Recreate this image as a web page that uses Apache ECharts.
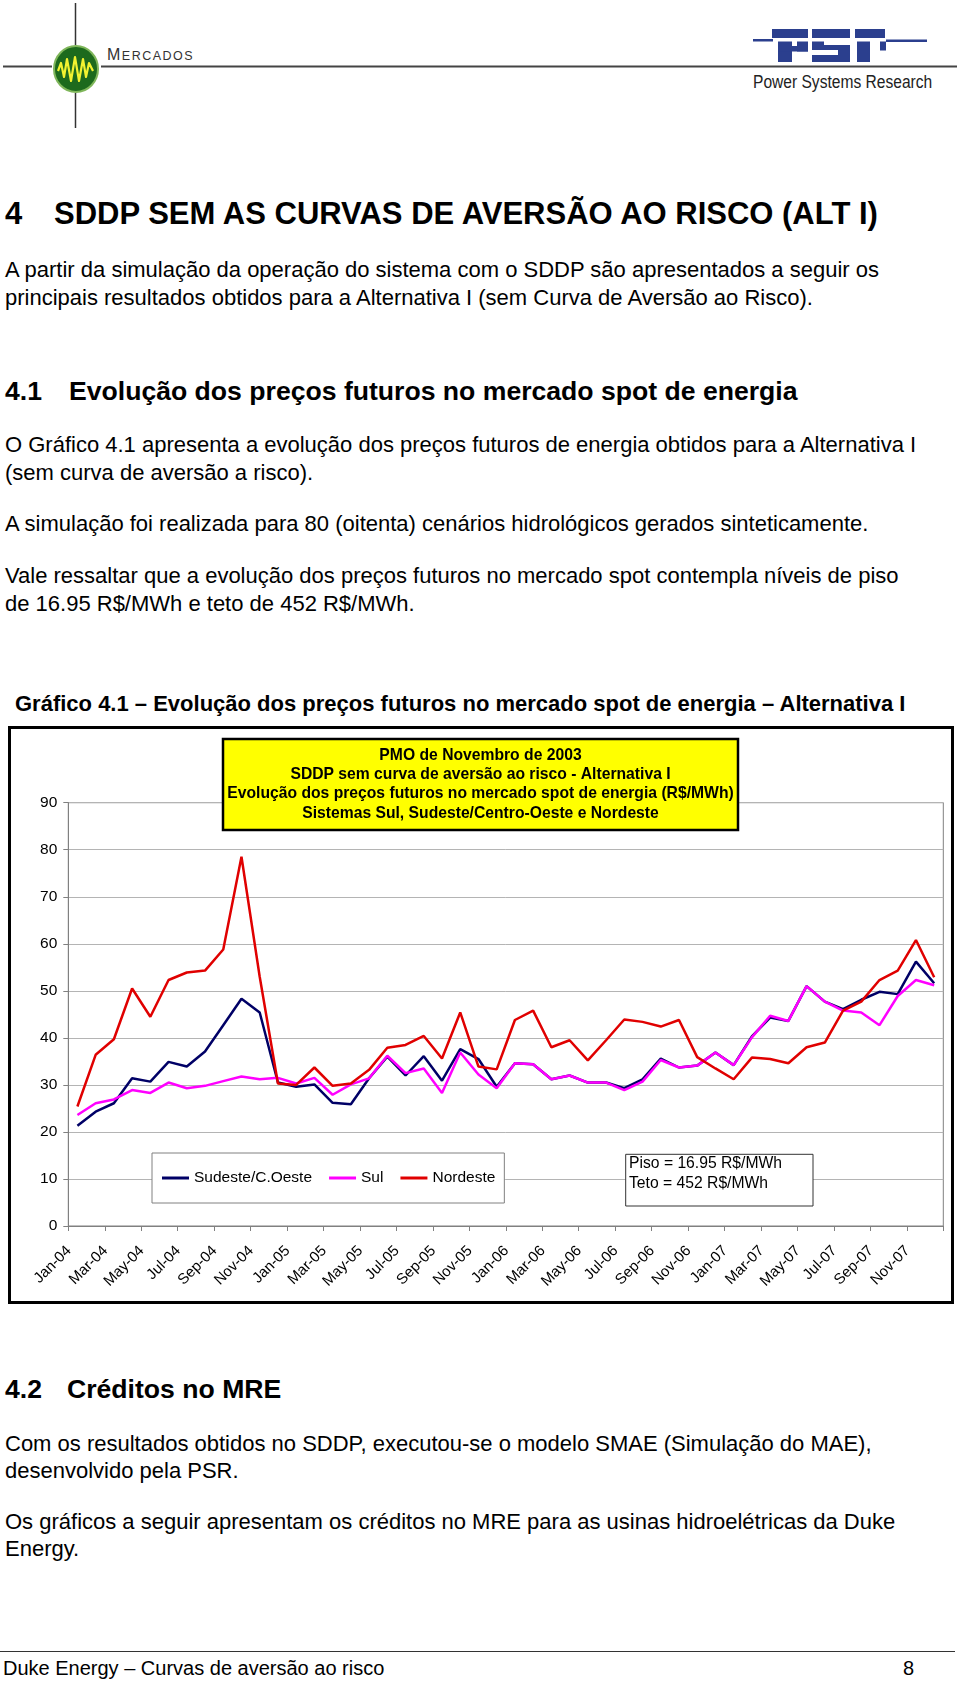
<!DOCTYPE html>
<html>
<head>
<meta charset="utf-8">
<script src="https://cdn.jsdelivr.net/npm/echarts@6/dist/echarts.min.js"></script>
<style>
  html, body { margin: 0; padding: 0; background: #fff; }
  #page { position: relative; width: 960px; height: 1682px; overflow: hidden; }
  .t { position: absolute; white-space: nowrap; font-family: "Liberation Sans", Arial, sans-serif; color: #000; }
  .b { font-weight: bold; }
  .body { font-size: 22px; line-height: 22px; }
  .h1 { font-size: 31px; line-height: 31px; }
  .h2 { font-size: 26.6px; line-height: 26.6px; }
  .cap { font-size: 22px; line-height: 22px; }
  #chartBox { position: absolute; left: 8px; top: 726px; width: 946px; height: 578px; border: 3px solid #000; box-sizing: border-box; }
  #chart { width: 940px; height: 572px; }
</style>
</head>
<body>
<div id="page">
  <!-- cabeçalho -->
  <svg width="960" height="140" style="position:absolute;left:0;top:0">
    <line x1="75.5" y1="3" x2="75.5" y2="45" stroke="#333" stroke-width="1.5"/>
    <line x1="75.5" y1="93" x2="75.5" y2="128" stroke="#333" stroke-width="1.5"/>
    <line x1="3" y1="66.5" x2="52" y2="66.5" stroke="#444" stroke-width="2"/>
    <line x1="101" y1="66.5" x2="957" y2="66.5" stroke="#444" stroke-width="2"/>
    <ellipse cx="76" cy="69" rx="22" ry="23" fill="#1d6a1d" stroke="#7fb65a" stroke-width="2"/>
    <path d="M58 71 L61 63 L64 77 L67 59 L71 81 L75 57 L79 81 L83 59 L86 77 L89 63 L93 71" fill="none" stroke="#f2f230" stroke-width="2.2" stroke-linejoin="round"/>
    <g fill="#2b3f8e">
      <rect x="753" y="39" width="20" height="2.5"/>
      <rect x="886" y="39.5" width="41" height="2.5"/>
      <!-- P -->
      <rect x="772" y="29" width="36" height="9"/>
      <rect x="778" y="41.5" width="14" height="20.5"/>
      <rect x="797" y="41.5" width="11" height="10"/>
      <rect x="778" y="46" width="30" height="5.5"/>
      <!-- S -->
      <rect x="812" y="29" width="38" height="9"/>
      <rect x="812" y="41.5" width="12" height="8"/>
      <rect x="812" y="45" width="38" height="5"/>
      <rect x="838" y="45" width="12" height="17"/>
      <rect x="812" y="55" width="38" height="7"/>
      <!-- R -->
      <rect x="855" y="29" width="30" height="9"/>
      <rect x="857" y="41.5" width="13" height="20.5"/>
      <rect x="880" y="41.5" width="6" height="9"/>
    </g>
  </svg>
  <div class="t" style="left:107px;top:47px;font-size:16px;line-height:16px;color:#333;letter-spacing:1.5px">M<span style="font-size:12.5px">ERCADOS</span></div>
  <div class="t" style="left:753px;top:74px;font-size:17.5px;line-height:17.5px;color:#222;transform:scaleX(0.89);transform-origin:left center">Power Systems Research</div>

  <!-- texto -->
  <div class="t b h1" style="left:5px;top:198px">4</div>
  <div class="t b h1" style="left:54px;top:198px">SDDP SEM AS CURVAS DE AVERSÃO AO RISCO (ALT I)</div>
  <div class="t body" style="left:5px;top:259px">A partir da simulação da operação do sistema com o SDDP são apresentados a seguir os</div>
  <div class="t body" style="left:5px;top:287px">principais resultados obtidos para a Alternativa I (sem Curva de Aversão ao Risco).</div>
  <div class="t b h2" style="left:5px;top:378px">4.1</div>
  <div class="t b h2" style="left:69px;top:378px">Evolução dos preços futuros no mercado spot de energia</div>
  <div class="t body" style="left:5px;top:434px">O Gráfico 4.1 apresenta a evolução dos preços futuros de energia obtidos para a Alternativa I</div>
  <div class="t body" style="left:5px;top:462px">(sem curva de aversão a risco).</div>
  <div class="t body" style="left:5px;top:513px">A simulação foi realizada para 80 (oitenta) cenários hidrológicos gerados sinteticamente.</div>
  <div class="t body" style="left:5px;top:565px">Vale ressaltar que a evolução dos preços futuros no mercado spot contempla níveis de piso</div>
  <div class="t body" style="left:5px;top:593px">de 16.95 R$/MWh e teto de 452 R$/MWh.</div>
  <div class="t b cap" style="left:15px;top:693px">Gráfico 4.1 – Evolução dos preços futuros no mercado spot de energia – Alternativa I</div>

  <div id="chartBox"><div id="chart"></div></div>

  <div class="t b h2" style="left:5px;top:1376px">4.2</div>
  <div class="t b h2" style="left:67px;top:1376px">Créditos no MRE</div>
  <div class="t body" style="left:5px;top:1433px">Com os resultados obtidos no SDDP, executou-se o modelo SMAE (Simulação do MAE),</div>
  <div class="t body" style="left:5px;top:1460px">desenvolvido pela PSR.</div>
  <div class="t body" style="left:5px;top:1511px">Os gráficos a seguir apresentam os créditos no MRE para as usinas hidroelétricas da Duke</div>
  <div class="t body" style="left:5px;top:1538px">Energy.</div>

  <div style="position:absolute;left:0;top:1651px;width:955px;height:0;border-top:1.5px solid #333"></div>
  <div class="t" style="left:3px;top:1658px;font-size:20px;line-height:20px">Duke Energy – Curvas de aversão ao risco</div>
  <div class="t" style="left:903px;top:1658px;font-size:20px;line-height:20px">8</div>
</div>

<script>
//  meses (categorias)
const meses = [
    'Jan-04', 'Feb-04', 'Mar-04', 'Apr-04', 'May-04', 'Jun-04', 'Jul-04', 'Aug-04', 'Sep-04', 'Oct-04', 'Nov-04', 'Dec-04',
    'Jan-05', 'Feb-05', 'Mar-05', 'Apr-05', 'May-05', 'Jun-05', 'Jul-05', 'Aug-05', 'Sep-05', 'Oct-05', 'Nov-05', 'Dec-05',
    'Jan-06', 'Feb-06', 'Mar-06', 'Apr-06', 'May-06', 'Jun-06', 'Jul-06', 'Aug-06', 'Sep-06', 'Oct-06', 'Nov-06', 'Dec-06',
    'Jan-07', 'Feb-07', 'Mar-07', 'Apr-07', 'May-07', 'Jun-07', 'Jul-07', 'Aug-07', 'Sep-07', 'Oct-07', 'Nov-07', 'Dec-07'
];

//  preços (R$/MWh)
const sudeste = [
    21.3, 24.3, 26.1, 31.4, 30.7, 34.9, 33.9, 37.1, 42.7, 48.3, 45.4, 30.5,
    29.6, 30.1, 26.2, 25.9, 31.4, 36.0, 32.0, 36.1, 30.9, 37.6, 35.5, 29.6,
    34.6, 34.4, 31.2, 32.0, 30.5, 30.5, 29.3, 31.2, 35.6, 33.7, 34.1, 36.9,
    34.2, 40.3, 44.3, 43.6, 51.0, 47.7, 46.1, 48.1, 49.8, 49.3, 56.2, 51.6
];
const sul = [
    23.6, 26.1, 26.9, 28.9, 28.3, 30.5, 29.3, 29.8, 30.8, 31.8, 31.2, 31.5,
    30.3, 31.5, 27.9, 30.1, 31.4, 36.2, 32.5, 33.5, 28.3, 36.9, 32.2, 29.3,
    34.6, 34.4, 31.2, 32.0, 30.5, 30.5, 28.9, 30.7, 35.3, 33.7, 34.1, 36.9,
    34.2, 40.1, 44.7, 43.6, 51.0, 47.7, 45.8, 45.4, 42.7, 48.9, 52.3, 51.2
];
const nordeste = [
    25.4, 36.4, 39.7, 50.5, 44.5, 52.3, 53.9, 54.3, 58.8, 78.5, 53.0, 30.3,
    30.0, 33.7, 29.8, 30.3, 33.2, 37.9, 38.5, 40.4, 35.6, 45.4, 33.9, 33.3,
    43.8, 45.8, 38.0, 39.5, 35.2, 39.5, 43.9, 43.4, 42.4, 43.8, 35.9, 33.5,
    31.2, 35.8, 35.5, 34.6, 38.0, 39.0, 45.8, 47.7, 52.3, 54.3, 60.8, 52.9
];

const nomes = ['Sudeste/C.Oeste', 'Sul', 'Nordeste'];
const cores = ['#000066', '#FF00FF', '#E00000'];

//  caixa amarela
const titulo = [
    'PMO de Novembro de 2003',
    'SDDP sem curva de aversão ao risco - Alternativa I',
    'Evolução dos preços futuros no mercado spot de energia (R$/MWh)',
    'Sistemas Sul, Sudeste/Centro-Oeste e Nordeste'
];
const nota = ['Piso = 16.95 R$/MWh', 'Teto = 452 R$/MWh'];

const fonte = '"Liberation Sans", Arial, sans-serif';

function linha(nome, dados, cor) {
    return {
        name: nome,
        type: 'line',
        data: dados,
        symbol: 'none',
        showSymbol: false,
        color: cor,
        lineStyle: {width: 2.5, color: cor},
    };
}

const myChart = echarts.init(document.getElementById('chart'));
myChart.setOption({
    animation: false,
    color: cores,
    textStyle: {fontFamily: fonte},
    grid: {
        left: 57.3,
        right: 7.7,
        top: 73.7,
        bottom: 75,
        show: true,
        borderColor: '#808080',
        borderWidth: 1,
        outerBoundsMode: 'none',
    },
    legend: {
        data: nomes,
        orient: 'horizontal',
        left: 141,
        top: 424,
        padding: [17, 9, 17, 10],
        itemGap: 17,
        itemWidth: 27,
        itemHeight: 3,
        icon: 'rect',
        selectedMode: false,
        backgroundColor: '#fff',
        borderColor: '#808080',
        borderWidth: 1,
        borderRadius: 0,
        textStyle: {fontSize: 15.5, color: '#000', fontFamily: fonte},
    },
    xAxis: {
        type: 'category',
        data: meses,
        boundaryGap: true,
        axisLine: {lineStyle: {color: '#808080', width: 1}},
        axisTick: {show: true, interval: 1, length: 5, lineStyle: {color: '#808080'}},
        axisLabel: {
            interval: 1,
            rotate: 45,
            fontSize: 15,
            color: '#000',
            margin: 14,
            padding: [0, 12, 0, 0],
            fontFamily: fonte,
        },
        splitLine: {show: false},
    },
    yAxis: {
        type: 'value',
        min: 0,
        max: 90,
        interval: 10,
        axisLine: {show: true, lineStyle: {color: '#808080', width: 1}},
        axisTick: {show: true, length: 5, lineStyle: {color: '#808080'}},
        axisLabel: {fontSize: 15.5, color: '#000', margin: 11, fontFamily: fonte},
        splitLine: {lineStyle: {color: '#b4b4b4', width: 1}},
    },
    series: [
        linha(nomes[0], sudeste, cores[0]),
        linha(nomes[1], sul, cores[1]),
        linha(nomes[2], nordeste, cores[2]),
    ],
    graphic: [
        {
            type: 'rect',
            z: 100,
            shape: {x: 212, y: 10, width: 515, height: 91},
            style: {fill: '#FFFF00', stroke: '#000', lineWidth: 2.5},
        },
        ...titulo.map((s, k) => ({
            type: 'text',
            z: 101,
            x: 469.5,
            y: 26.5 + k * 19.3,
            style: {
                text: s,
                fill: '#000',
                font: 'bold 15.7px ' + fonte,
                textAlign: 'center',
                textVerticalAlign: 'middle',
            },
        })),
        {
            type: 'rect',
            z: 100,
            shape: {x: 614.7, y: 425.3, width: 187.3, height: 51.7},
            style: {fill: '#fff', stroke: '#333', lineWidth: 1},
        },
        ...nota.map((s, k) => ({
            type: 'text',
            z: 101,
            x: 618,
            y: 435 + k * 19.3,
            style: {
                text: s,
                fill: '#000',
                font: '15.7px ' + fonte,
                textAlign: 'left',
                textVerticalAlign: 'middle',
            },
        })),
    ],
});
</script>
</body>
</html>
